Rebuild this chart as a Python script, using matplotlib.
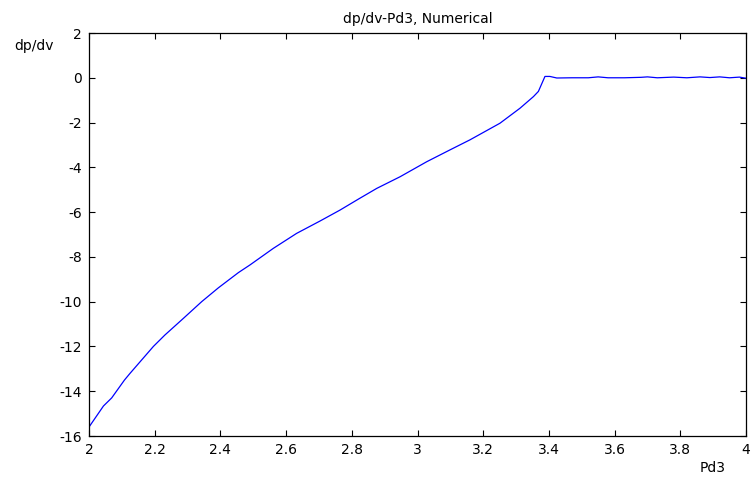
import matplotlib
matplotlib.use('Agg')
import matplotlib.pyplot as plt

plt.rcParams['font.family'] = ['DejaVu Sans']
plt.rcParams['axes.unicode_minus'] = False

# values
pd3 = [2.0, 2.044, 2.069, 2.108, 2.125, 2.196, 2.231, 2.287, 2.343, 2.394,
       2.455, 2.490, 2.561, 2.632, 2.703, 2.764, 2.820, 2.876, 2.947, 3.028,
       3.099, 3.160, 3.251, 3.312, 3.353, 3.368, 3.388, 3.403, 3.424, 3.47,
       3.52, 3.55, 3.58, 3.63, 3.68, 3.70, 3.73, 3.78, 3.82, 3.86, 3.89,
       3.92, 3.95, 3.98, 4.0]
dpdv = [-15.6, -14.66, -14.3, -13.5, -13.2, -12.0, -11.49, -10.75, -10.0, -9.38,
        -8.70, -8.36, -7.62, -6.95, -6.40, -5.91, -5.42, -4.94, -4.42, -3.75,
        -3.22, -2.77, -2.03, -1.36, -0.84, -0.61, 0.06, 0.06, -0.01, 0.0,
        0.0, 0.04, 0.0, 0.0, 0.02, 0.04, 0.0, 0.03, 0.0, 0.04, 0.01,
        0.04, 0.0, 0.03, -0.02]

xticks = [2, 2.2, 2.4, 2.6, 2.8, 3, 3.2, 3.4, 3.6, 3.8, 4]
xtick_labels = ['2', '2.2', '2.4', '2.6', '2.8', '3', '3.2', '3.4', '3.6', '3.8', '4']
yticks = list(range(-16, 3, 2))

fig = plt.figure(figsize=(7.53, 4.86), dpi=100)
ax = fig.add_axes([89 / 753, 50 / 486, 657 / 753, 403 / 486])
ax.plot(pd3, dpdv, color='blue', linewidth=0.9)
ax.set_xlim(2, 4)
ax.set_ylim(-16, 2)
ax.set_xticks(xticks)
ax.set_xticklabels(xtick_labels)
ax.set_yticks(yticks)
ax.tick_params(direction='in', top=True, right=True, length=4, width=0.8,
               labelsize=10, pad=5)
for s in ax.spines.values():
    s.set_linewidth(0.9)

ax.set_title('dp/dv-Pd3, Numerical', fontsize=10, pad=7)
fig.text(34 / 753, 1 - 46 / 486, 'dp/dv', fontsize=10, ha='center', va='center')
fig.text(713 / 753, 1 - 468 / 486, 'Pd3', fontsize=10, ha='center', va='center')

fig.savefig('out.png', dpi=100)
